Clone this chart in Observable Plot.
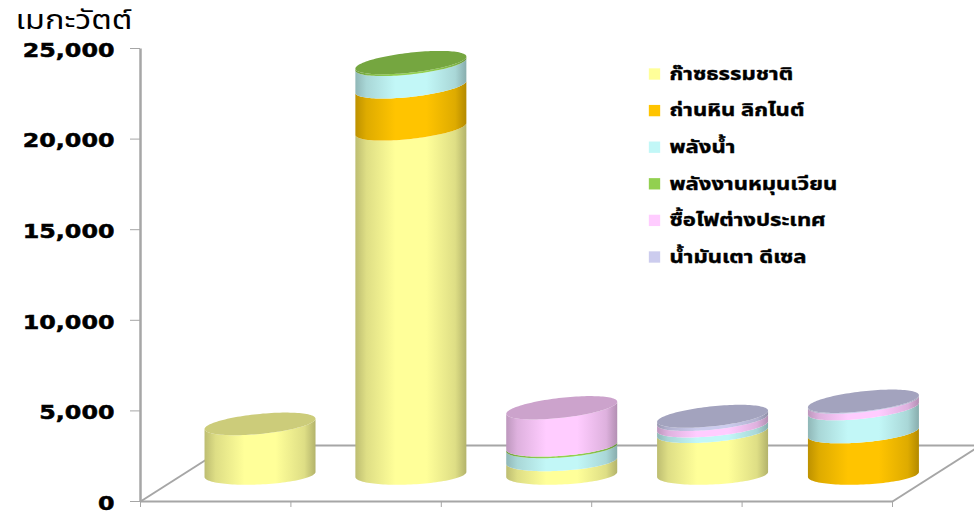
<!DOCTYPE html>
<html>
<head>
<meta charset="utf-8">
<script src="https://cdn.jsdelivr.net/npm/d3@7"></script>
<script src="https://cdn.jsdelivr.net/npm/@observablehq/plot@0.6"></script>
<style>
  html, body { margin: 0; padding: 0; background: #fff; }
</style>
</head>
<body>
<div id="chart"></div>
<script>
// Installed capacity in megawatts, one array per fuel, one slot per column.
const columns = [0, 1, 2, 3, 4];
const gas       = [2710, 18990, 680, 2265, 0];
const coal      = [0, 2320, 0, 0, 2250];
const hydro     = [0, 1240, 730, 315, 1300];
const renewable = [0, 100, 90, 0, 0];
const imported  = [0, 0, 2100, 365, 360];
const oil       = [0, 0, 0, 185, 50];

const seriesNames = [
  "ก๊าซธรรมชาติ", "ถ่านหิน ลิกไนต์", "พลังน้ำ",
  "พลังงานหมุนเวียน", "ซื้อไฟต่างประเทศ", "น้ำมันเตา ดีเซล"
];
const seriesValues = [gas, coal, hydro, renewable, imported, oil];
const seriesColors = ["#ffff99", "#ffc400", "#c2f7f7", "#92d050", "#ffccff", "#ccccee"];
const yTicks = [0, 5000, 10000, 15000, 20000, 25000];
const xTicks = [0, 1, 2, 3, 4, 5];
const unitLabel = "เมกะวัตต์";

const axisGray = "#a6a6a6";
const thaiFont = "'Noto Sans Thai', 'Noto Sans', 'DejaVu Sans', sans-serif";

// Floor depth and cylinder proportions, in scale units.
const floorDepthX = 0.585;
const floorDepthY = 3090;
const columnPitch = 1.003;
const columnOffset = 0.798;
const radiusX = 0.369;
const radiusY = 553;
const topShear = 332;
const baseShear = 140;
const shearRange = 3500;
const baseDrop = 80;

// Ellipse edges at a given value. The tilt lifts the right end; rims near the
// floor are seen flatter than those higher up, and the floor rim sits a little lower.
const angles = d3.range(0, 61).map((k) => (k / 60) * Math.PI);
const rimX = (i, t) => i * columnPitch + columnOffset + radiusX * Math.cos(t);
const centre = (v) => v + floorDepthY / 2 - (v === 0 ? baseDrop : 0);
const tilt = (v, t) =>
  (baseShear + Math.min(v / shearRange, 1) * (topShear - baseShear)) * Math.cos(t);
const rimFront = (v, t) => centre(v) + tilt(v, t) - radiusY * Math.sin(t);
const rimBack = (v, t) => centre(v) + tilt(v, t) + radiusY * Math.sin(t);

// Horizontal shading for each fuel's cylinder wall.
function gradients() {
  const defs = d3.create("svg:defs");
  const stops = [[0, 0.74], [0.1, 0.87], [0.36, 1], [0.64, 1], [0.9, 0.87], [1, 0.7]];
  seriesColors.forEach((c, s) => {
    const g = defs.append("linearGradient").attr("id", `wall${s}`);
    for (const [o, k] of stops) {
      const rgb = d3.rgb(c);
      g.append("stop")
        .attr("offset", o)
        .attr("stop-color", d3.rgb(rgb.r * k, rgb.g * k, rgb.b * k).formatHex());
    }
  });
  return defs.node();
}

const wallMarks = [];
const capMarks = [];
columns.forEach((i) => {
  let base = 0;
  let topSeries = -1;
  seriesValues.forEach((values, s) => {
    const v = values[i];
    if (v <= 0) return;
    const lo = base;
    const hi = base + v;
    wallMarks.push(Plot.areaY(angles, {
      x: (t) => rimX(i, t),
      y1: (t) => rimFront(lo, t),
      y2: (t) => rimFront(hi, t),
      fill: `url(#wall${s})`
    }));
    base = hi;
    topSeries = s;
  });
  const total = base;
  const cap = d3.rgb(seriesColors[topSeries]);
  capMarks.push(Plot.areaY(angles, {
    x: (t) => rimX(i, t),
    y1: (t) => rimFront(total, t),
    y2: (t) => rimBack(total, t),
    fill: d3.rgb(cap.r * 0.8, cap.g * 0.8, cap.b * 0.8).formatHex()
  }));
});

// Legend rows sit in the upper right of the frame.
const legendMarks = seriesNames.flatMap((name, s) => [
  Plot.dot([name], {
    frameAnchor: "top-left", dx: 654 - 140, dy: 73.5 - 48 + s * 36.6,
    symbol: "square", r: 6.4, fill: seriesColors[s]
  }),
  Plot.text([name], {
    frameAnchor: "top-left", dx: 669 - 140, dy: 73.5 - 48 + s * 36.6,
    text: (d) => d, textAnchor: "start", lineAnchor: "middle",
    fontSize: 18, fontWeight: 700, fontFamily: thaiFont, fill: "#000",
    stroke: "#000", strokeWidth: 0.4
  })
]);

const plot = Plot.plot({
  width: 974,
  height: 514,
  marginTop: 48,
  marginBottom: 13,
  marginLeft: 140,
  marginRight: 82,
  style: { background: "#fff", overflow: "hidden" },
  x: { domain: [0, 5], axis: null },
  y: { domain: [0, 25000], axis: null },
  marks: [
    gradients,
    // Floor outline
    Plot.link([0], { x1: 0, y1: 0, x2: floorDepthX, y2: floorDepthY, stroke: axisGray, strokeWidth: 2 }),
    Plot.link([0], { x1: 5, y1: 0, x2: 5 + floorDepthX, y2: floorDepthY, stroke: axisGray, strokeWidth: 2 }),
    Plot.link([0], { x1: floorDepthX, y1: floorDepthY, x2: 5 + floorDepthX, y2: floorDepthY, stroke: axisGray, strokeWidth: 2 }),
    Plot.link([0], { x1: 0, y1: 0, x2: 5, y2: 0, stroke: axisGray, strokeWidth: 2 }),
    Plot.link([0], { x1: 0, y1: 0, x2: 0, y2: 25000, stroke: axisGray, strokeWidth: 2.5 }),
    Plot.axisY({
      ticks: yTicks, tickFormat: d3.format(","), tickSize: 10, tickPadding: 16,
      stroke: axisGray, fill: "#000", label: null, fontSize: 19.5, fontWeight: 700,
      fontFamily: "'DejaVu Sans', sans-serif"
    }),
    Plot.axisX({ ticks: xTicks, tickFormat: () => "", tickSize: 6, stroke: axisGray, label: null }),
    ...wallMarks,
    ...capMarks,
    ...legendMarks,
    Plot.text([unitLabel], {
      frameAnchor: "top-left", dx: 15 - 140, dy: 20 - 48, text: (d) => d,
      textAnchor: "start", lineAnchor: "middle", fontSize: 27, fontFamily: thaiFont, fill: "#000"
    })
  ]
});

// The typeface runs wide here: stretch the labels horizontally about their anchors.
const tickLabels = new Set(yTicks.map(d3.format(",")));
plot.querySelectorAll("text").forEach((node) => {
  const content = node.textContent;
  const current = node.getAttribute("transform") || "";
  if (tickLabels.has(content)) {
    node.setAttribute("transform", `${current} translate(0,2) scale(1.22,1)`);
    node.setAttribute("stroke", "#000");
    node.setAttribute("stroke-width", "0.5");
  } else if (seriesNames.includes(content)) {
    node.setAttribute("transform", `${current} scale(1.23,1)`);
  } else if (content === unitLabel) {
    node.setAttribute("transform", `${current} scale(1.2,1)`);
  }
});

document.getElementById("chart").append(plot);
</script>
</body>
</html>
